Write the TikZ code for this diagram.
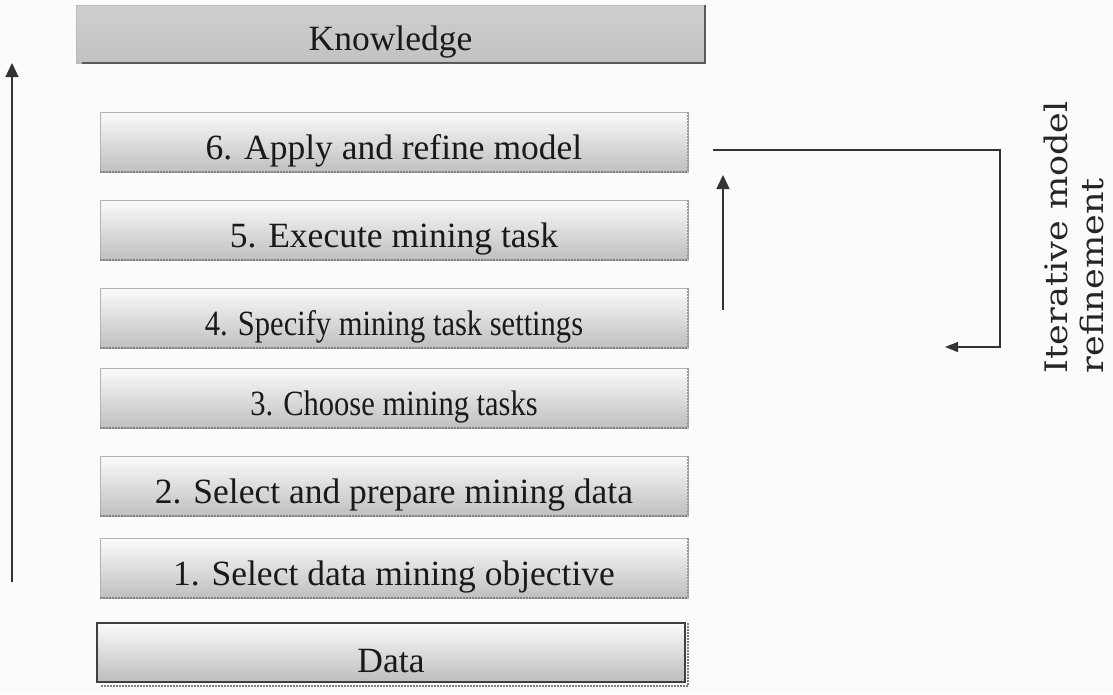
\documentclass[tikz,border=0pt]{standalone}
\usepackage{fontspec}
\setmainfont{Liberation Serif}
\newfontfamily\sidefont{DejaVu Serif}
\usetikzlibrary{arrows.meta}

\begin{document}
\begin{tikzpicture}[x=1pt,y=-1pt,
  every node/.style={inner sep=0pt, outer sep=0pt},
  boxtext/.style={font=\fontsize{35.5}{40}\selectfont, text=black!90,
                  text height=47pt, text depth=13pt},
  stepbox/.style={boxtext, anchor=north west, draw=gray!60, line width=0.8pt,
                  top color=white!97!gray, middle color=gray!18, bottom color=gray!50,
                  minimum width=588pt, minimum height=60pt},
  knowbox/.style={boxtext, anchor=north west, draw=gray!55, line width=0.8pt,
                  top color=gray!38, bottom color=gray!48,
                  minimum width=629pt, minimum height=58pt, text height=45pt},
  databox/.style={boxtext, anchor=north west, draw=black!75, line width=1.2pt,
                  top color=white!97!gray, middle color=gray!18, bottom color=gray!52,
                  minimum width=588pt, minimum height=59pt, text height=49pt, text depth=10pt},
  shade edge/.style={line width=2.2pt, black!50, dash pattern=on 2pt off 1pt},
  flow/.style={line width=1.3pt, black!80},
  tipup/.style={-{Triangle[width=13pt,length=14pt]}},
  tipleft/.style={-{Triangle[width=10pt,length=13pt]}},
]
% page and background
\useasboundingbox (0,0) rectangle (1113,694);
\fill[white!97!gray] (0,0) rectangle (1113,694);

% top and bottom of the process
\node[knowbox] (know) at (76,5) {Knowledge};
\draw[line width=2.2pt, black!65] ([xshift=6pt]know.south west) -- (know.south east) -- (know.north east);

\node[databox] (data) at (97,623) {Data};
\draw[shade edge] ([xshift=4pt,yshift=-4pt]data.south west) -- ([xshift=3pt,yshift=-4pt]data.south east)
                  -- ([xshift=3pt]data.north east);

% the six steps
\node[stepbox] (s6) at (100,112) {6. Apply and refine model};
\node[stepbox] (s5) at (100,200) {5. Execute mining task};
\node[stepbox] (s4) at (100,288) {\scalebox{0.86}[1]{4. Specify mining task settings}};
\node[stepbox] (s3) at (100,368) {\scalebox{0.86}[1]{3. Choose mining tasks}};
\node[stepbox] (s2) at (100,456) {2. Select and prepare mining data};
\node[stepbox] (s1) at (100,538) {1. Select data mining objective};

\foreach \s in {s1,s2,s3,s4,s5,s6}{
  \draw[shade edge] (\s.south west) -- (\s.south east);
  \draw[line width=1.2pt, black!40, dash pattern=on 2pt off 1pt] (\s.north east) -- (\s.south east);
}

% overall direction of the process
\coordinate (lb) at (12,582);
\coordinate (lt) at (12,63);
\draw[flow, tipup] (lb) -- (lt);

% iteration loop
\coordinate (la) at (713,150);
\coordinate (lc1) at (1000,150);
\coordinate (lc2) at (1000,347);
\coordinate (le) at (945,347);
\draw[flow, line width=1.1pt, tipleft] (la) -- (lc1) -- (lc2) -- (le);

\coordinate (ub) at (723,310);
\coordinate (ut) at (723,175);
\draw[flow, tipup] (ub) -- (ut);

\node[rotate=90, anchor=north west, align=left, text=black!85,
      font=\sidefont\fontsize{31}{36}\selectfont] (loop) at (1044,373)
      {\scalebox{1.13}[1]{Iterative model}\\\scalebox{1.13}[1]{refinement}};
\end{tikzpicture}
\end{document}
